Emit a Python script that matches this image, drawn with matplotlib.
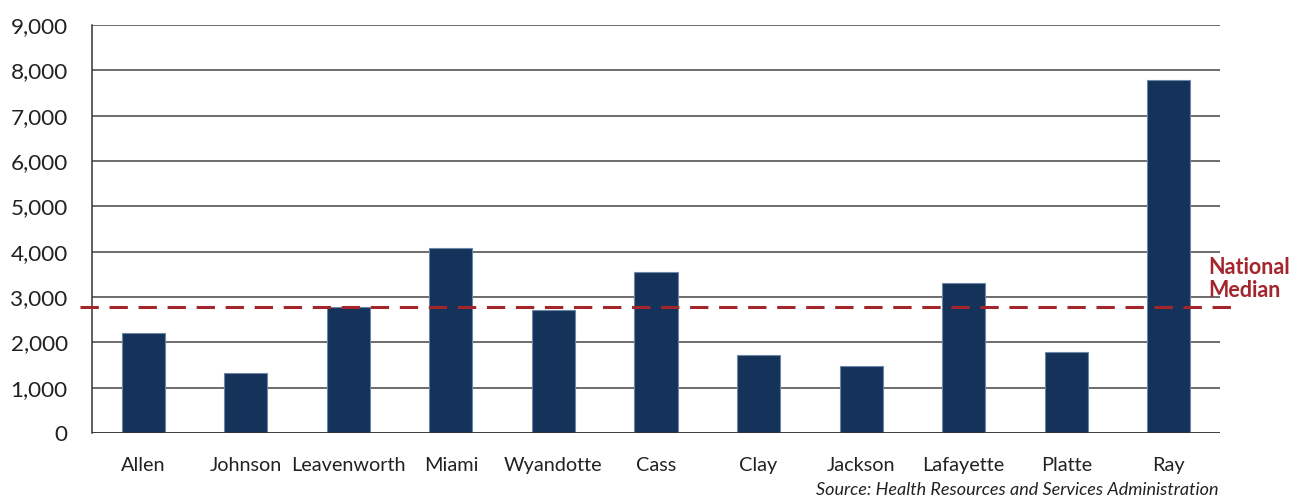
import matplotlib
matplotlib.use("Agg")
import matplotlib.pyplot as plt
from matplotlib.ticker import FuncFormatter

counties = ["Allen", "Johnson", "Leavenworth", "Miami", "Wyandotte", "Cass",
            "Clay", "Jackson", "Lafayette", "Platte", "Ray"]
values = [2200, 1320, 2790, 4080, 2720, 3550, 1720, 1480, 3310, 1790, 7780]
national_median = 2790

plt.rcParams['font.family'] = ['Lato', 'DejaVu Sans']

fig = plt.figure(figsize=(12.96, 5.01), dpi=100)
ax = fig.add_axes([0.071, 0.1357, 0.8704, 0.8143])

x = range(len(counties))
ax.bar(x, values, width=0.42, color="#15325a", edgecolor="#6f87a6",
       linewidth=0.8, zorder=3)

ax.set_xlim(-0.5, len(counties) - 0.5)
ax.set_ylim(0, 9000)
ax.set_yticks(range(0, 9001, 1000))
ax.yaxis.set_major_formatter(FuncFormatter(lambda v, p: f"{int(v):,}"))
ax.set_xticks(list(x))
ax.set_xticklabels(counties, fontsize=14.3)
ax.tick_params(axis="y", labelsize=16.2, length=0, pad=17.5, colors="#222222")
ax.tick_params(axis="x", length=0, pad=17, colors="#222222")

ax.grid(axis="y", color="#444444", linewidth=1.1, zorder=0)
for s in ["top", "right", "bottom"]:
    ax.spines[s].set_visible(False)
ax.spines["left"].set_color("#333333")
ax.spines["left"].set_linewidth(1.1)
ax.axhline(0, color="#333333", linewidth=1.1, zorder=4)

# national median dashed line, running past the plot edges
ax.plot([-0.62, 10.68], [national_median, national_median], color="#a3262d",
        linewidth=2.2, dashes=(6, 3.5), clip_on=False, zorder=5)
fig.text(0.932, 0.443, "National\nMedian", color="#a3262d", fontsize=15.5,
         fontweight="bold", ha="left", va="center", linespacing=1.15)

fig.text(0.940, 0.005, "Source: Health Resources and Services Administration",
         fontsize=13, style="italic", ha="right", va="bottom", color="#222222")

fig.savefig("out.png", dpi=100)
